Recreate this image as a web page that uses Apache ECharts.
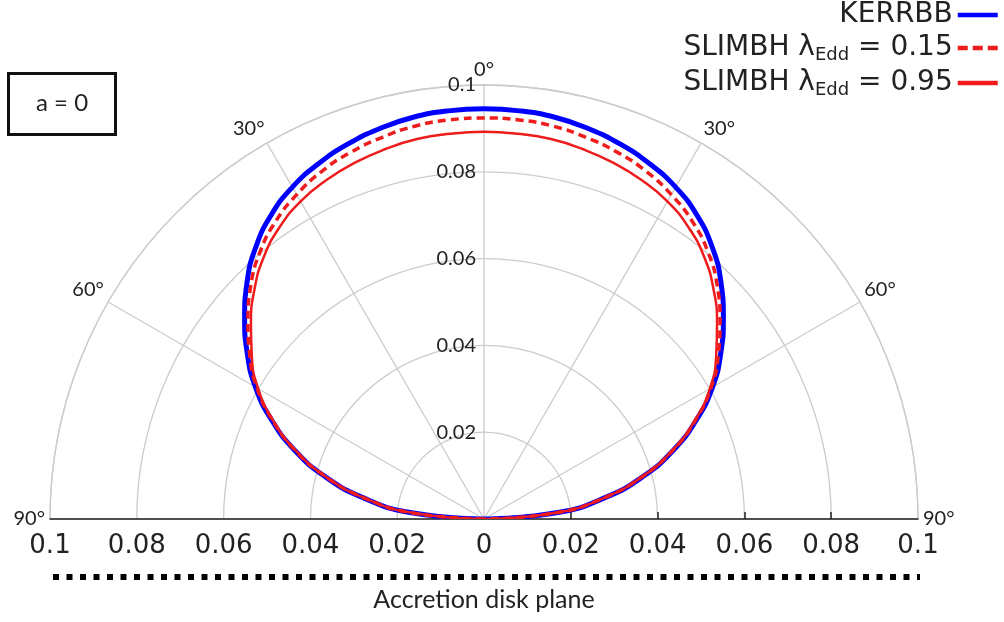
<!DOCTYPE html>
<html>
<head>
<meta charset="utf-8">
<script src="https://cdn.jsdelivr.net/npm/echarts@6/dist/echarts.min.js"></script>
<style>html,body{margin:0;padding:0;background:#fff;}#c{width:1004px;height:622px;}</style>
</head>
<body>
<div id="c"></div>
<script>
// Inclination angles (degrees from the disk axis) and radial values
const angles  = [0, 5, 10, 15, 20, 25, 30, 35, 40, 45, 50, 55, 60, 65, 70, 75, 80, 85, 90];
const kerrbb  = [0.0945, 0.0944, 0.0940, 0.0931, 0.0919, 0.0903, 0.0883, 0.0855, 0.0818, 0.0772, 0.0720, 0.0666, 0.0608, 0.0540, 0.0465, 0.0380, 0.0283, 0.0171, 0];
const slim015 = [0.0924, 0.0923, 0.0919, 0.0910, 0.0899, 0.0884, 0.0863, 0.0837, 0.0803, 0.0760, 0.0710, 0.0659, 0.0604, 0.0537, 0.0463, 0.0378, 0.0281, 0.0170, 0];
const slim095 = [0.0892, 0.0891, 0.0889, 0.0882, 0.0873, 0.0861, 0.0845, 0.0821, 0.0789, 0.0748, 0.0701, 0.0653, 0.0601, 0.0536, 0.0462, 0.0378, 0.0281, 0.0170, 0];
const radiusTicks = [0.02, 0.04, 0.06, 0.08, 0.1];
const rightTicks = [0.02, 0.04, 0.06, 0.08];
const seriesNames = ['KERRBB', 'SLIMBH λEdd = 0.15', 'SLIMBH λEdd = 0.95'];
const legendLabels = ['{n|KERRBB}', '{n|SLIMBH λ}{s|Edd}{n| = 0.15}', '{n|SLIMBH λ}{s|Edd}{n| = 0.95}'];

function mirrored(vals) {
  const out = [];
  for (let i = angles.length - 1; i >= 1; i--) out.push([vals[i], -angles[i]]);
  for (let i = 0; i < angles.length; i++) out.push([vals[i], angles[i]]);
  return out;
}
function fmt(v) { return String(parseFloat(Math.abs(v).toFixed(3))); }

const gray = '#cccccc';
const chart = echarts.init(document.getElementById('c'));
chart.setOption({
  animation: false,
  backgroundColor: '#fff',
  title: {
    text: 'a = 0', left: 8, top: 73,
    borderColor: '#111', borderWidth: 3,
    padding: [18, 28, 20, 28],
    textStyle: { fontFamily: 'Lato', fontSize: 24, fontWeight: 'normal', color: '#222' }
  },
  legend: {
    orient: 'vertical', right: 4, top: 1, align: 'right',
    padding: 0, itemGap: 5, itemWidth: 40, itemHeight: 14,
    itemStyle: { opacity: 0 },
    lineStyle: { width: 4.5 },
    data: [
      { name: seriesNames[0] },
      { name: seriesNames[1], lineStyle: { type: [10, 5], width: 4.5 } },
      { name: seriesNames[2] }
    ],
    formatter: function (name) { return legendLabels[seriesNames.indexOf(name)]; },
    textStyle: {
      color: '#222',
      rich: {
        n: { fontFamily: 'DejaVu Sans', fontSize: 28, lineHeight: 32, color: '#222' },
        s: { fontFamily: 'DejaVu Sans', fontSize: 18, lineHeight: 4, verticalAlign: 'bottom', color: '#222' }
      }
    }
  },
  polar: { center: [484, 519], radius: 434 },
  angleAxis: {
    type: 'value', min: -90, max: 90, interval: 30,
    startAngle: 180, endAngle: 0,
    axisLine: { show: true, lineStyle: { color: gray, width: 1.3 } },
    axisTick: { show: false },
    splitLine: { show: true, lineStyle: { color: gray, width: 1.3 } },
    axisLabel: {
      fontFamily: 'Lato', fontSize: 20, color: '#222', margin: 5,
      formatter: function (v) { return Math.abs(v) + '°'; }
    }
  },
  radiusAxis: {
    type: 'value', min: 0, max: 0.1, interval: 0.02,
    axisLine: { show: false }, axisTick: { show: false }, axisLabel: { show: false },
    splitLine: { show: true, lineStyle: { color: gray, width: 1.3 } }
  },
  grid: { left: 50, right: 86, top: 85, bottom: 103 },
  xAxis: {
    type: 'value', min: -0.1, max: 0.1, interval: 0.02,
    axisLine: { show: true, onZero: false, lineStyle: { color: '#222', width: 1.5 } },
    axisTick: { show: true, inside: true, length: 7, customValues: rightTicks, lineStyle: { color: '#222', width: 1.5 } },
    splitLine: { show: false },
    axisLabel: { fontFamily: 'DejaVu Sans', fontSize: 26, color: '#222', margin: 14, formatter: fmt },
    name: 'Accretion disk plane', nameLocation: 'middle', nameGap: 68,
    nameTextStyle: { fontFamily: 'Lato', fontSize: 25, color: '#222' }
  },
  yAxis: {
    type: 'value', min: 0, max: 0.1, interval: 0.02, offset: -434,
    axisLine: { show: false, onZero: false }, axisTick: { show: false }, splitLine: { show: false },
    axisLabel: {
      fontFamily: 'Lato', fontSize: 20, color: '#222', margin: 8,
      customValues: radiusTicks, formatter: fmt
    }
  },
  graphic: [{
    type: 'line', silent: true,
    shape: { x1: 53, y1: 577, x2: 920, y2: 577 },
    style: { stroke: '#000', lineWidth: 6, lineDash: [6, 7.5] }
  }],
  series: [
    { name: seriesNames[0], type: 'line', coordinateSystem: 'polar', smooth: true, symbol: 'none',
      data: mirrored(kerrbb), lineStyle: { color: '#0000ff', width: 5 }, itemStyle: { color: '#0000ff' }, z: 2 },
    { name: seriesNames[1], type: 'line', coordinateSystem: 'polar', smooth: true, symbol: 'none',
      data: mirrored(slim015), lineStyle: { color: '#ee1c1c', width: 3.5, type: [8, 5] }, itemStyle: { color: '#ee1c1c' }, z: 3 },
    { name: seriesNames[2], type: 'line', coordinateSystem: 'polar', smooth: true, symbol: 'none',
      data: mirrored(slim095), lineStyle: { color: '#ee1c1c', width: 2.5 }, itemStyle: { color: '#ee1c1c' }, z: 4 }
  ]
});
</script>
</body>
</html>
